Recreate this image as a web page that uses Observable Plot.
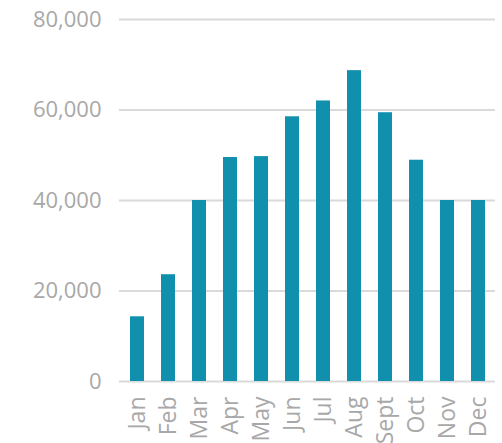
<!DOCTYPE html>
<html>
<head>
<meta charset="utf-8">
<script src="https://cdn.jsdelivr.net/npm/d3@7"></script>
<script src="https://cdn.jsdelivr.net/npm/@observablehq/plot@0.6"></script>
<style>
  html, body { margin: 0; padding: 0; background: #fff; }
  #chart { width: 502px; height: 443px; overflow: hidden; }
</style>
</head>
<body>
<div id="chart"></div>
<script>
const months = ["Jan","Feb","Mar","Apr","May","Jun","Jul","Aug","Sept","Oct","Nov","Dec"];
const values = [14300, 23600, 40000, 49500, 49700, 58500, 62000, 68700, 59400, 48900, 40000, 40000];
const yTicks = [0, 20000, 40000, 60000, 80000];

const data = months.map((m, i) => ({month: m, value: values[i]}));

const chart = Plot.plot({
  width: 502,
  height: 443,
  marginLeft: 119,
  marginRight: 7,
  marginTop: 19,
  marginBottom: 62,
  style: {fontFamily: "'Open Sans', sans-serif", color: "#a8a8a8", background: "#fff"},
  x: {domain: months, paddingInner: 0.55, paddingOuter: 0.275, label: null},
  y: {domain: [0, 80000], label: null},
  marks: [
    Plot.ruleY(yTicks, {stroke: "#dadada", strokeWidth: 2}),
    Plot.barY(data, {x: "month", y: "value", fill: "#1190ae"}),
    Plot.axisY(yTicks, {tickSize: 0, tickPadding: 18, fontSize: 22, tickFormat: d3.format(","), label: null, fill: "#a8a8a8"}),
    Plot.axisX({tickRotate: -90, tickSize: 0, tickPadding: 15, fontSize: 23, label: null, fill: "#a8a8a8"})
  ]
});
document.getElementById("chart").appendChild(chart);
</script>
</body>
</html>
